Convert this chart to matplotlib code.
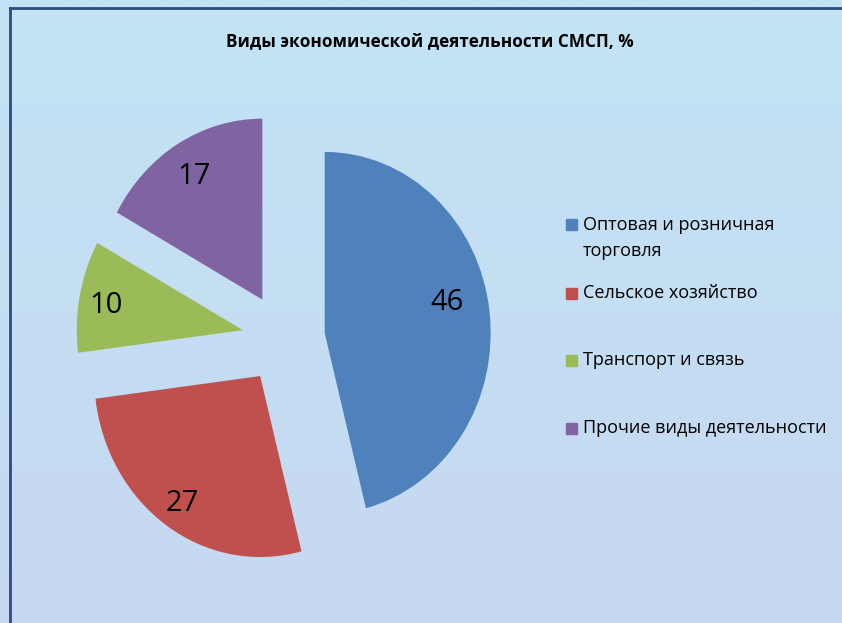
import numpy as np
import matplotlib
matplotlib.use('Agg')
import matplotlib.pyplot as plt
from matplotlib.patches import Rectangle
from matplotlib.lines import Line2D

title = 'Виды экономической деятельности СМСП, %'
categories = ['Оптовая и розничная\nторговля', 'Сельское хозяйство',
              'Транспорт и связь', 'Прочие виды деятельности']
values = [46, 27, 10, 17]
colors = ['#4F81BD', '#C0504D', '#9BBB59', '#8064A2']

W, H = 842, 623
plt.rcParams['font.family'] = ['Open Sans', 'DejaVu Sans']

fig = plt.figure(figsize=(W / 100, H / 100), dpi=100)

# gradient background
bg = fig.add_axes([0, 0, 1, 1], zorder=-10)
top = np.array([195, 228, 245]) / 255
bottom = np.array([198, 216, 240]) / 255
t = np.linspace(0, 1, 256)[:, None]
grad = top * (1 - t) + bottom * t
bg.imshow(grad[:, None, :], aspect='auto', extent=[0, 1, 0, 1])
bg.axis('off')

# border (right and bottom edges are cut off)
fig.add_artist(Line2D([10 / W, 10 / W], [0, 1 - 8 / H], color='#2B4C7E', lw=2))
fig.add_artist(Line2D([10 / W, 1], [1 - 8 / H, 1 - 8 / H], color='#2B4C7E', lw=2))

fig.text(430 / W, 1 - 41 / H, title, ha='center', va='center',
         fontsize=12.3, fontweight='bold', color='black')

# pie: center (283.5, 338.6) px, rx 166 px, ry 181 px
rx, ry, cx, cy = 166, 181, 283.5, 338.6
lim = 1.3
ax = fig.add_axes([(cx - lim * rx) / W, (H - cy - lim * ry) / H,
                   2 * lim * rx / W, 2 * lim * ry / H])
wedges, texts, autotexts = ax.pie(
    values, colors=colors, startangle=90, counterclock=False,
    explode=[0.25] * len(values), pctdistance=0.8,
    autopct=lambda p: f'{p * sum(values) / 100:.0f}',
    textprops={'fontsize': 21, 'color': 'black'})
ax.set_aspect('auto')
ax.set_xlim(-lim, lim)
ax.set_ylim(-lim, lim)
ax.axis('off')

# nudge value labels like excel's best fit
lab_r = [0.76, 0.83, 0.84, 0.81]
lab_da = [7, 0, 0, 0]
for w, txt, r, da in zip(wedges, autotexts, lab_r, lab_da):
    a = np.deg2rad((w.theta1 + w.theta2) / 2 + da)
    x0, y0 = w.center
    txt.set_position((x0 + r * np.cos(a), y0 + r * np.sin(a)))
    txt.set_va('center_baseline')

# legend
leg_y = [238, 293, 360, 428]
sq_y = [224, 293, 360, 428]
for lab, col, y, sy in zip(categories, colors, leg_y, sq_y):
    fig.patches.append(Rectangle((566 / W, 1 - (sy + 5.5) / H), 11 / W, 11 / H,
                                 transform=fig.transFigure, color=col))
    fig.text(583 / W, 1 - y / H, lab, ha='left', va='center',
             fontsize=13, linespacing=1.6, color='black')

fig.savefig('out.png', dpi=100)
